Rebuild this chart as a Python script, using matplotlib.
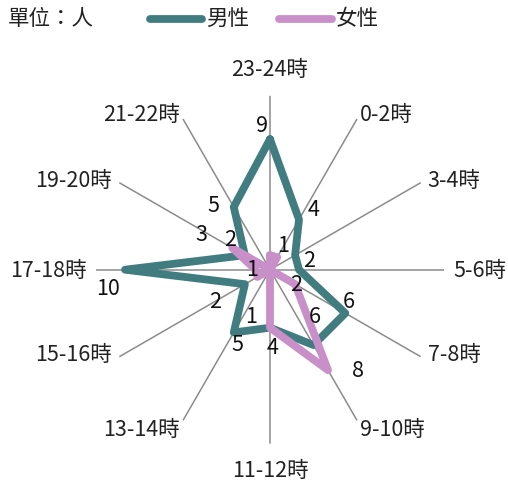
import numpy as np
import matplotlib
matplotlib.use("Agg")
import matplotlib.pyplot as plt
from matplotlib.lines import Line2D

plt.rcParams['font.family'] = ['Noto Sans CJK TC', 'DejaVu Sans']

categories = ["23-24時", "0-2時", "3-4時", "5-6時", "7-8時", "9-10時",
              "11-12時", "13-14時", "15-16時", "17-18時", "19-20時", "21-22時"]
male = [9, 4, 2, 2, 6, 6, 4, 5, 2, 10, 2, 5]
female = [1, 1, 0, 0, 2, 8, 4, 0, 1, 1, 3, 0]
series_names = ["男性", "女性"]
unit_label = "單位：人"

MALE_C = "#417d80"
FEMALE_C = "#c88fc9"
R_MAX = 12
FS = 15.5

# label offsets in pixels (style only); None = label hidden behind another
male_off = [(-8, 14), (15, 10), (14, -5), None, (3, 12), (1, 29),
            (3, -19), (4, -12), (-30, -17), (-17, -18), (-15, 16), (-20, 2)]
female_off = [(13, 10), None, None, None, (1, 0), (30, 0),
              None, None, (-6, -39), (-3, 1), (-31, 14), None]

W, H = 508, 485
fig = plt.figure(figsize=(W / 100, H / 100), dpi=100)
cx, cy, rp = 270, 270.7, 174
ax = fig.add_axes([(cx - rp) / W, (H - cy - rp) / H, 2 * rp / W, 2 * rp / H],
                  projection='polar')
ax.set_theta_zero_location('N')
ax.set_theta_direction(-1)
ax.set_ylim(0, R_MAX)
ax.set_axis_off()

n = len(categories)
theta = np.arange(n) * 2 * np.pi / n

for t, lab in zip(theta, categories):
    ax.plot([t, t], [0, R_MAX], color="#8c8c8c", lw=1.1, zorder=1)
    s, c = np.sin(t), np.cos(t)
    if abs(s) < 1e-6:
        ha = 'center'
        dx, dy = 0, 27 if c > 0 else -26
    else:
        ha = 'left' if s > 0 else 'right'
        if abs(abs(s) - 1) < 1e-6:
            dx, dy = 9 * np.sign(s), 0
        elif abs(s) > 0.8:
            dx, dy = 7 * np.sign(s), 3
        else:
            dx, dy = 3 * np.sign(s), 5 if c > 0 else -9
    ax.annotate(lab, (t, R_MAX), xytext=(dx, dy), textcoords='offset pixels',
                ha=ha, va='center', fontsize=FS, color="#222222",
                annotation_clip=False)

tc = np.append(theta, theta[0])
ax.plot(tc, male + male[:1], color=MALE_C, lw=5.6, solid_joinstyle='round',
        solid_capstyle='round', zorder=3)
ax.plot(tc, female + female[:1], color=FEMALE_C, lw=5.6, solid_joinstyle='round',
        solid_capstyle='round', zorder=4)

for vals, offs in ((male, male_off), (female, female_off)):
    for t, v, o in zip(theta, vals, offs):
        if o is None or v == 0:
            continue
        ax.annotate(str(v), (t, v), xytext=o, textcoords='offset pixels',
                    ha='center', va='center', fontsize=FS, color="#111111",
                    zorder=6, annotation_clip=False)

# header legend
fig.text(8 / W, 1 - 19 / H, unit_label, ha='left', va='center', fontsize=FS,
         color="#222222")
for (x0, x1, tx), col, name in (((150, 202, 206), MALE_C, series_names[0]),
                                ((279, 332, 336), FEMALE_C, series_names[1])):
    fig.add_artist(Line2D([x0 / W, x1 / W], [1 - 20 / H, 1 - 20 / H],
                          transform=fig.transFigure, color=col, lw=5.6,
                          solid_capstyle='round'))
    fig.text(tx / W, 1 - 19 / H, name, ha='left', va='center', fontsize=FS,
             color="#222222")

fig.savefig("out.png", dpi=100)
